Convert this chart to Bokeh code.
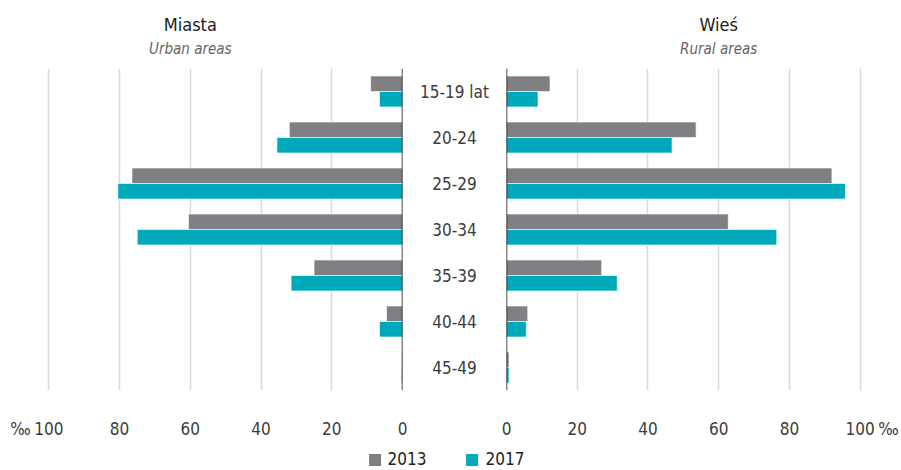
from bokeh.plotting import figure
from bokeh.models import (Range1d, FactorRange, FixedTicker, Span, Legend,
                          ColumnDataSource, Spacer)
from bokeh.layouts import row, column
from bokeh.transform import dodge
from bokeh.core.properties import value
from bokeh.embed import file_html
from bokeh.resources import INLINE

# ---- data (per mille) ----
categories = ["15-19 lat", "20-24", "25-29", "30-34", "35-39", "40-44", "45-49"]
urban_2013 = [9.0, 32.0, 76.5, 60.5, 25.0, 4.5, 0.2]
urban_2017 = [6.5, 35.5, 80.5, 75.0, 31.5, 6.5, 0.3]
rural_2013 = [12.3, 53.6, 92.0, 62.7, 26.9, 6.0, 0.7]
rural_2017 = [8.9, 46.8, 95.8, 76.4, 31.3, 5.6, 0.7]
years = ["2013", "2017"]
ticks = [0, 20, 40, 60, 80, 100]
panel_titles = ["Miasta", "Wieś"]
panel_subtitles = ["Urban areas", "Rural areas"]
unit_label = "‰"

FONT = "'DejaVu Sans Condensed', 'Liberation Sans', sans-serif"
C13 = "#808084"
C17 = "#00A9BA"
TXT = "#3c3c3c"
GRID = "#d9d9d9"

src = ColumnDataSource(dict(cat=categories, u13=urban_2013, u17=urban_2017,
                            r13=rural_2013, r17=rural_2017,
                            zero=[0] * len(categories)))

TITLE_H, FH, BOT = 68, 322, 44
BH = 0.336


def blank(p):
    p.outline_line_color = None
    p.background_fill_color = None
    p.border_fill_color = None
    p.grid.visible = False
    return p


def make_panel(xr, frame_w, c13, c17, bl, br, unit_pos):
    p = figure(x_range=xr, y_range=FactorRange(factors=list(reversed(categories))),
               frame_width=frame_w, frame_height=FH, toolbar_location=None,
               output_backend="svg", y_axis_location=None,
               min_border_top=0, min_border_bottom=BOT,
               min_border_left=bl, min_border_right=br)
    p.outline_line_color = None
    p.background_fill_color = None
    p.border_fill_color = None
    p.ygrid.visible = False
    p.xgrid.ticker = FixedTicker(ticks=ticks)
    p.xgrid.grid_line_color = GRID
    p.xgrid.grid_line_width = 1.5
    ax = p.xaxis[0]
    ax.ticker = FixedTicker(ticks=ticks + [unit_pos])
    ax.major_label_overrides = {unit_pos: unit_label}
    ax.axis_line_color = None
    ax.major_tick_line_color = None
    ax.minor_tick_line_color = None
    ax.major_label_standoff = 22
    ax.major_label_text_font = FONT
    ax.major_label_text_font_size = "17px"
    ax.major_label_text_color = TXT
    p.hbar(y=dodge("cat", BH / 2, range=p.y_range), left="zero", right=c13,
           height=BH, source=src, fill_color=C13, line_color="white", line_width=0.6)
    p.hbar(y=dodge("cat", -BH / 2, range=p.y_range), left="zero", right=c17,
           height=BH, source=src, fill_color=C17, line_color="white", line_width=0.6)
    p.add_layout(Span(location=0, dimension="height", line_color="#111111", line_width=1.5))
    return p


def make_title(xr, frame_w, bl, br, title, subtitle):
    t = figure(x_range=xr, y_range=Range1d(0, 1), frame_width=frame_w,
               frame_height=TITLE_H, toolbar_location=None, output_backend="svg",
               x_axis_location=None, y_axis_location=None, min_border_top=0,
               min_border_bottom=0, min_border_left=bl, min_border_right=br)
    blank(t)
    t.text(x=[60], y=[0.65], text=[title], text_align="center", text_baseline="middle",
           text_font=value(FONT), text_font_size="18px", text_color="#222222")
    t.text(x=[60], y=[0.29], text=[subtitle], text_align="center",
           text_baseline="middle", text_font=value(FONT), text_font_size="15px",
           text_font_style="italic", text_color="#666666")
    return t


left = make_panel(Range1d(110, 0), 389, "u13", "u17", 13, 8, 108)
right = make_panel(Range1d(0, 108), 382, "r13", "r17", 8, 13, 108)
tleft = make_title(left.x_range, 389, 13, 8, panel_titles[0], panel_subtitles[0])
tright = make_title(right.x_range, 382, 8, 13, panel_titles[1], panel_subtitles[1])

mid = figure(x_range=Range1d(0, 1), y_range=FactorRange(factors=list(reversed(categories))),
             frame_width=88, frame_height=FH, toolbar_location=None, output_backend="svg",
             x_axis_location=None, y_axis_location=None,
             min_border_top=0, min_border_bottom=BOT, min_border_left=0,
             min_border_right=0)
blank(mid)
mid.text(x=0.5, y="cat", text="cat", source=src, text_align="center",
         text_baseline="middle", text_font=value(FONT), text_font_size="17px",
         text_color=TXT)

leg = figure(width=901, height=36, x_range=Range1d(0, 1), y_range=Range1d(0, 1),
             toolbar_location=None, output_backend="svg", min_border=0,
             min_border_right=10, x_axis_location=None, y_axis_location=None)
blank(leg)
# zero-width bars: only their legend swatches are seen
r1 = leg.hbar(y=[0.5], left=[0], right=[0], height=0.5, fill_color=C13, line_color=None)
r2 = leg.hbar(y=[0.5], left=[0], right=[0], height=0.5, fill_color=C17, line_color=None)
legend = Legend(items=[(years[0], [r1]), (years[1], [r2])], orientation="horizontal",
                location="center", border_line_color=None,
                background_fill_alpha=0, label_text_font=FONT,
                label_text_font_size="17px", label_text_color="#222222",
                glyph_width=15, glyph_height=15, spacing=38, label_standoff=6,
                padding=0, margin=0)
leg.add_layout(legend, "center")

layout = column(row(tleft, Spacer(width=88, height=TITLE_H), tright),
                row(left, mid, right), leg)
open("out.html", "w").write(file_html(layout, INLINE))
